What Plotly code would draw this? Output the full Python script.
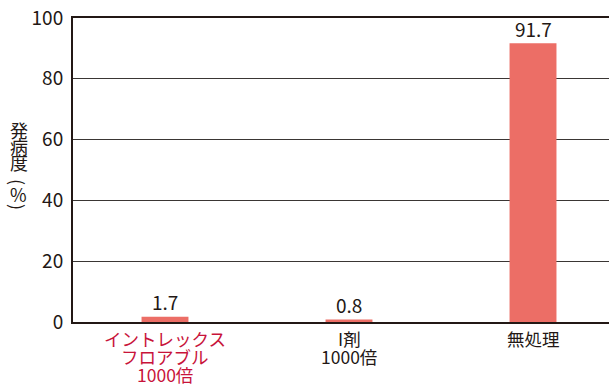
import plotly.graph_objects as go

categories = ["イントレックス<br>フロアブル<br>1000倍", "I剤<br>1000倍", "無処理"]
values = [1.7, 0.8, 91.7]
value_labels = ["1.7", "0.8", "91.7"]
label_colors = ["#C8133A", "#231815", "#231815"]
y_ticks = [0, 20, 40, 60, 80, 100]
y_title_chars = ["発", "病", "度", "(", "%", ")"]

FONT = "Noto Sans CJK JP"
TXT = "#231815"

W, H = 609, 385
ML, MR, MT, MB = 73, 0, 18, 63
plot_w = W - ML - MR
plot_h = H - MT - MB

x_idx = list(range(len(categories)))

fig = go.Figure()
fig.add_trace(go.Bar(
    x=x_idx, y=values, width=0.255,
    marker=dict(color="#EC6E66", line=dict(width=0)),
    hoverinfo="skip",
))

annotations = []
# value labels above bars
for i, (v, lab) in enumerate(zip(values, value_labels)):
    annotations.append(dict(
        text=lab, x=i, xref="x", y=v, yref="y",
        xanchor="center", yanchor="middle", yshift=15,
        showarrow=False, font=dict(family=FONT, size=19, color=TXT),
    ))
# category labels, one annotation per line for tight line spacing
for i, (cat, col) in enumerate(zip(categories, label_colors)):
    for j, line in enumerate(cat.split("<br>")):
        annotations.append(dict(
            text=line, x=i, xref="x", y=0, yref="paper",
            yanchor="middle", xanchor="center", yshift=-(16 + 18 * j),
            showarrow=False, font=dict(family=FONT, size=17.5, color=col),
        ))
# vertical y-axis title (upright characters, parentheses turned)
title_y = [129.5, 145.5, 162, 181.5, 193.5, 206.5]
for ch, py in zip(y_title_chars, title_y):
    rotate = ch in "()"
    annotations.append(dict(
        text=ch, x=(18.5 - ML) / plot_w, xref="paper",
        y=(H - MB - py) / plot_h, yref="paper",
        xanchor="center", yanchor="middle", showarrow=False,
        textangle=90 if rotate else 0,
        font=dict(family=FONT, size=18, color=TXT),
    ))

fig.update_layout(
    width=W, height=H,
    margin=dict(l=ML, r=MR, t=MT, b=MB),
    paper_bgcolor="white", plot_bgcolor="white",
    showlegend=False,
    font=dict(family=FONT, color=TXT),
    xaxis=dict(
        range=[-0.5, 2.413], tickvals=x_idx, showticklabels=False,
        showline=True, linecolor=TXT, linewidth=2, mirror=True,
        showgrid=False, ticks="", automargin=False,
        zeroline=False, fixedrange=True,
    ),
    yaxis=dict(
        range=[0, 100], tickvals=y_ticks,
        showline=True, linecolor=TXT, linewidth=2,
        showgrid=True, gridcolor="#3a3634", gridwidth=1,
        zeroline=False, ticks="", ticklabelstandoff=4, automargin=False,
        tickfont=dict(family=FONT, size=19, color=TXT),
    ),
    annotations=annotations,
)

fig.write_html("out.html")
